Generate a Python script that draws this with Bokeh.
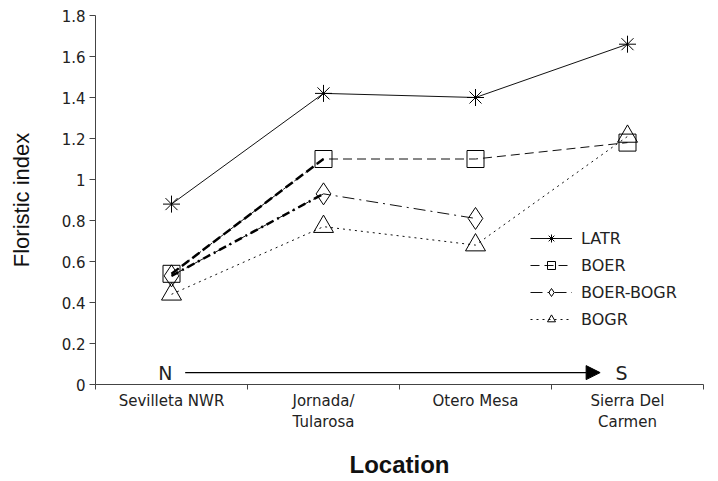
from bokeh.plotting import figure
from bokeh.models import Range1d, FixedTicker, Legend, LegendItem, Arrow, NormalHead, Label
from bokeh.embed import file_html
from bokeh.resources import INLINE

categories = ["Sevilleta NWR", "Jornada/\nTularosa", "Otero Mesa", "Sierra Del\nCarmen"]
latr = [0.88, 1.42, 1.40, 1.66]
boer = [0.54, 1.10, 1.10, 1.18]
boer_bogr = [0.53, 0.93, 0.81, float("nan")]
bogr = [0.44, 0.77, 0.68, 1.21]
y_ticks = [0, 0.2, 0.4, 0.6, 0.8, 1, 1.2, 1.4, 1.6, 1.8]

xs = [i + 0.5 for i in range(len(categories))]
TITLE_FONT = "Liberation Sans"
TICK_FONT = "DejaVu Sans"

p = figure(width=718, height=481, output_backend="svg", toolbar_location=None,
           x_range=Range1d(0, len(categories)), y_range=Range1d(0, 1.8),
           min_border_left=95, min_border_right=15, min_border_top=15, min_border_bottom=97)
p.outline_line_color = None
p.xgrid.visible = False
p.ygrid.visible = False
p.background_fill_color = "white"

# x axis
p.xaxis.ticker = FixedTicker(ticks=xs, minor_ticks=list(range(len(categories) + 1)))
p.xaxis.major_label_overrides = {x: c for x, c in zip(xs, categories)}
p.xaxis.major_tick_out = 0
p.xaxis.major_tick_in = 0
p.xaxis.minor_tick_out = 5
p.xaxis.minor_tick_in = 0
p.xaxis.major_label_standoff = 2
p.xaxis.major_label_text_font_size = "15px"
p.xaxis.axis_label = "Location"
p.xaxis.axis_label_text_font = TITLE_FONT
p.xaxis.axis_label_text_font_style = "bold"
p.xaxis.axis_label_text_font_size = "24px"
p.xaxis.axis_label_standoff = 17

# y axis
p.yaxis.ticker = FixedTicker(ticks=y_ticks)
p.yaxis.major_tick_out = 6
p.yaxis.major_tick_in = 0
p.yaxis.major_label_standoff = 4
p.yaxis.major_label_text_font_size = "15px"
p.yaxis.axis_label = "Floristic index"
p.yaxis.axis_label_text_font = TITLE_FONT
p.yaxis.axis_label_text_font_style = "normal"
p.yaxis.axis_label_text_font_size = "22px"
p.yaxis.axis_label_standoff = 25

for ax in (p.xaxis, p.yaxis):
    ax.major_label_text_font = TICK_FONT
    ax.major_label_text_color = "#222222"
    ax.axis_line_color = "#444444"
    ax.major_tick_line_color = "#444444"
    ax.axis_label_text_color = "#111111"
p.xaxis.minor_tick_line_color = "#444444"
p.yaxis.minor_tick_line_color = None

items = []
# LATR
l1 = p.line(xs, latr, line_color="#111111", line_width=1)
m1 = p.scatter(xs, latr, marker="asterisk", size=17, line_color="black", line_width=1)
items.append(LegendItem(label="LATR", renderers=[l1, m1]))
# BOER
l2 = p.line(xs, boer, line_color="#111111", line_width=1, line_dash="9 5")
p.line(xs[:2], boer[:2], line_color="black", line_width=2.5, line_dash="9 4")
m2 = p.scatter(xs, boer, marker="square", size=17, line_color="black", fill_color=None, line_width=1)
items.append(LegendItem(label="BOER", renderers=[l2, m2]))
# BOER-BOGR
l3 = p.line(xs, boer_bogr, line_color="#111111", line_width=1, line_dash="12 5 2 5")
p.line(xs[:2], boer_bogr[:2], line_color="black", line_width=2.5, line_dash="8 4 2 4")
m3 = p.scatter(xs, boer_bogr, marker="diamond", size=22, line_color="black", fill_color=None, line_width=1)
items.append(LegendItem(label="BOER-BOGR", renderers=[l3, m3]))
# BOGR
l4 = p.line(xs, bogr, line_color="#111111", line_width=1, line_dash="2 4")
m4 = p.scatter(xs, bogr, marker="triangle", size=20, line_color="black", fill_color=None, line_width=1)
items.append(LegendItem(label="BOGR", renderers=[l4, m4]))

legend = Legend(items=items, location=(435, 55), border_line_color=None,
                background_fill_alpha=0, padding=0, margin=0, spacing=7,
                glyph_width=42, glyph_height=20, label_standoff=9,
                label_text_font=TICK_FONT, label_text_font_size="16px",
                label_text_color="#222222", label_height=20)
p.add_layout(legend, "center")

# N -> S arrow
p.add_layout(Label(x=0.46, y=0.058, text="N", text_font=TICK_FONT, text_font_size="19px",
                   text_align="center", text_baseline="middle", text_color="#222222"))
p.add_layout(Label(x=3.46, y=0.058, text="S", text_font=TICK_FONT, text_font_size="19px",
                   text_align="center", text_baseline="middle", text_color="#222222"))
p.add_layout(Arrow(x_start=0.59, y_start=0.058, x_end=3.32, y_end=0.058,
                   line_color="black", line_width=1.2,
                   end=NormalHead(size=14, fill_color="black", line_color="black")))

open("out.html", "w").write(file_html(p, INLINE))
